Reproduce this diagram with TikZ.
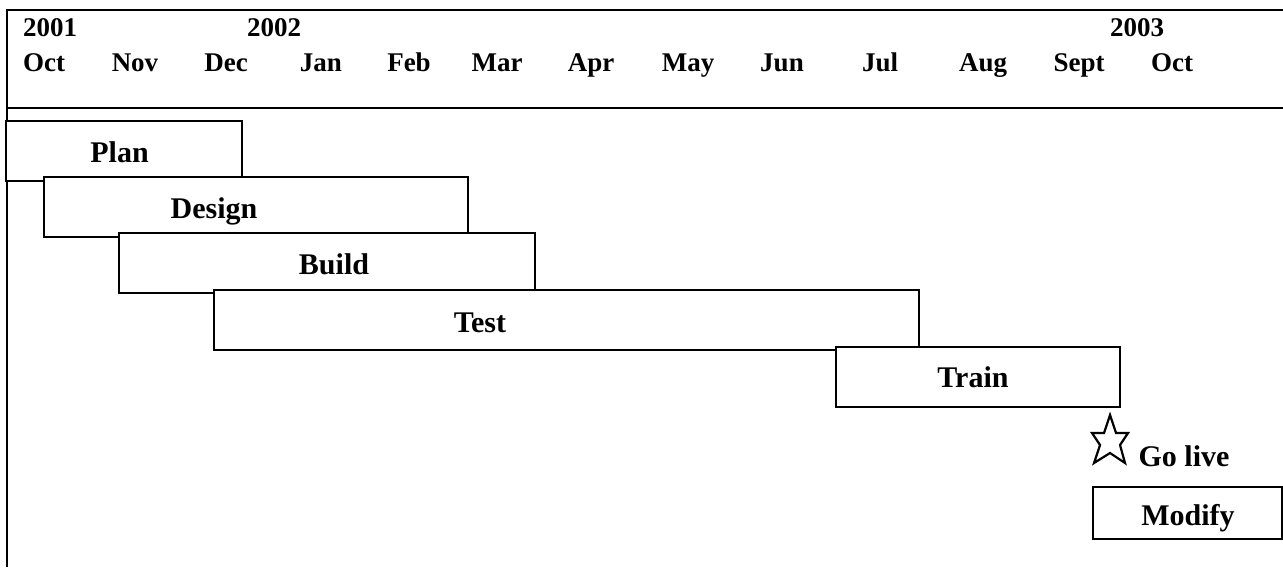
\documentclass[tikz,border=0pt]{standalone}
\usepackage{fontspec}
\setmainfont{Liberation Serif}
\usepackage{tikz}
\usetikzlibrary{arrows.meta,calc,positioning}

\tikzset{
	frame/.style={line width=1pt},
	bar/.style={draw, line width=1pt, fill=white},
	hdr/.style={font=\fontsize{13.5}{16}\selectfont\bfseries, anchor=base, inner sep=0pt},
	lbl/.style={font=\fontsize{15}{18}\selectfont\bfseries, anchor=base, inner sep=0pt},
}

\begin{document}
\begin{tikzpicture}[x=0.5pt, y=-0.5pt]
		\useasboundingbox (0,0) rectangle (1283,567);
		% Draw frame and header line
		\draw[frame] (7,567) |- (1283,10);
		\draw[frame] (7,108) -- (1283,108);
		% Years and months
		\node[hdr] (y1) at (50,37) {2001};
		\node[hdr] (y2) at (274,37) {2002};
		\node[hdr] (y3) at (1137,37) {2003};
		\foreach \m/\x [count=\i] in {Oct/44, Nov/135, Dec/226, Jan/321, Feb/409, Mar/497, Apr/591, May/688, Jun/782, Jul/880, Aug/983, Sept/1079, Oct/1172}
			\node[hdr] (m\i) at (\x,72) {\m};
		% Add task bars
		\draw[bar] (6,121) rectangle (242,181);
		\node[lbl] (plan) at (119.5,162) {Plan};
		\draw[bar] (44,177) rectangle (468,237);
		\node[lbl] (design) at (214,218) {Design};
		\draw[bar] (119,233) rectangle (535,293);
		\node[lbl] (build) at (334,274) {Build};
		\draw[bar] (214,290) rectangle (919,350);
		\node[lbl] (test) at (480,332) {Test};
		\draw[bar] (836,347) rectangle (1120,407);
		\node[lbl] (train) at (973,387) {Train};
		% Go live milestone
		\draw[line width=1.1pt, line join=miter] (1110,415) -- (1116,433) -- (1128,433) -- (1120,445) -- (1125,463) -- (1110,453) -- (1094,463) -- (1100,445) -- (1092,433) -- (1104,433) -- cycle;
		\node[lbl] (golive) at (1184,466) {Go live};
		\draw[bar] (1093,487) rectangle (1282,539);
		\node[lbl] (modify) at (1188,525) {Modify};
	\end{tikzpicture}
\end{document}
